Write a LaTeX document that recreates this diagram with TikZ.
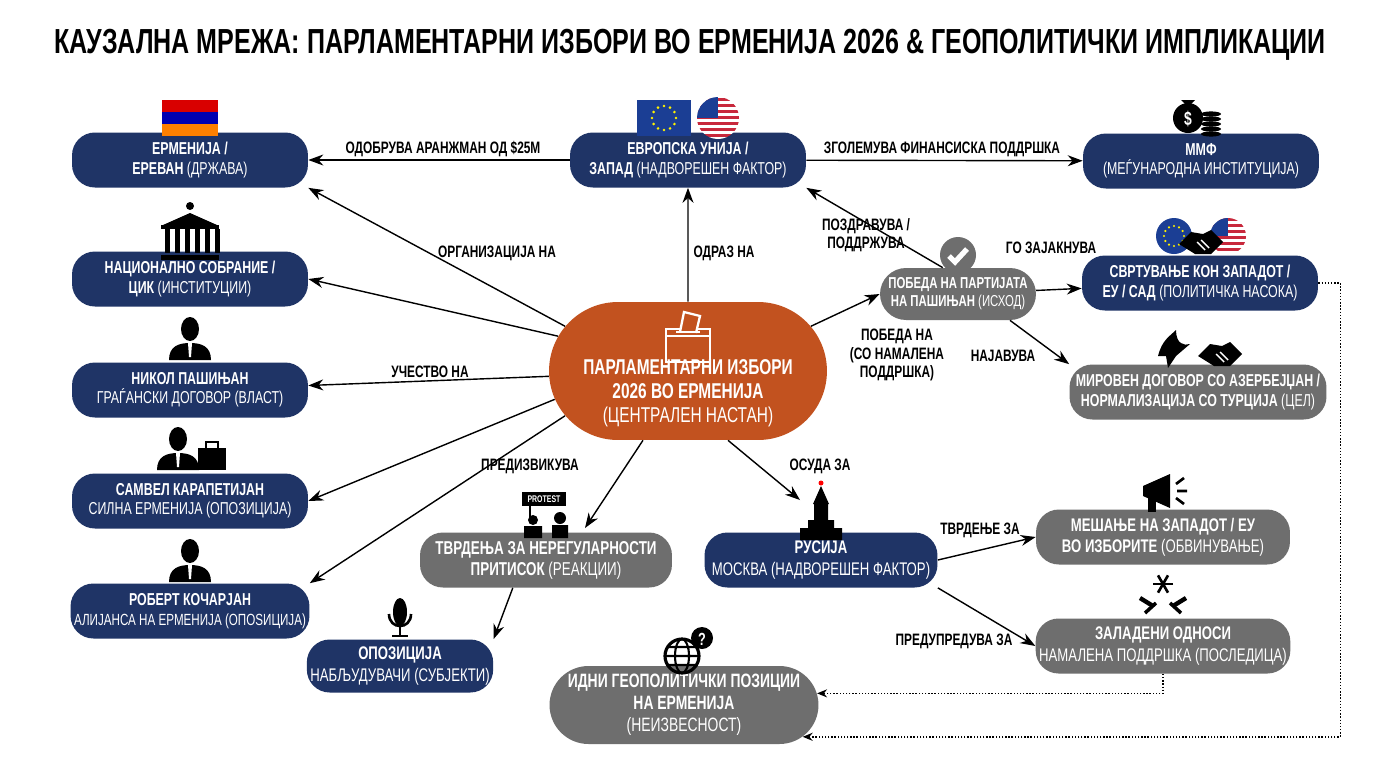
\documentclass[tikz,border=0pt]{standalone}
\usepackage{fontspec}
\setmainfont{Liberation Sans}[FakeStretch=0.72]
\usetikzlibrary{positioning,arrows.meta,shapes.misc,calc}
\definecolor{navy}{HTML}{1F3466}
\definecolor{slate}{HTML}{6E6E6E}
\definecolor{rust}{HTML}{C2521F}
\definecolor{eublue}{HTML}{1B3E94}
\definecolor{usred}{HTML}{C8283C}
\tikzset{
  box/.style={rounded corners=13, minimum width=4.72cm, minimum height=1.1cm, align=center, text=white, inner sep=2pt, font=\fontsize{9.8}{11}\selectfont},
  navybox/.style={box, fill=navy},
  graybox/.style={box, fill=slate},
  pill/.style={rounded rectangle, align=center, text=white, inner sep=2pt, font=\fontsize{9.8}{11}\selectfont},
  lbl/.style={font=\bfseries\fontsize{9.4}{10.6}\selectfont, align=center},
  link/.style={-{Stealth[length=3mm,width=2.2mm]}, line width=0.8pt},
  dots/.style={-{Stealth[length=2mm,width=1.6mm]}, densely dotted, line width=0.8pt},
  person/.pic={
    \fill (0,-15) ellipse (9 and 12);
    \fill (-21,16) .. controls (-21,2) and (-11,-1) .. (0,-1) .. controls (11,-1) and (21,2) .. (21,16) -- cycle;
    \fill[white] (-2,-1) -- (2,-1) -- (1,13) -- (-1,13) -- cycle;
  },
  shake/.pic={
    \fill (-22,4) -- (-10,-8) -- (2,-6) -- (10,-10) -- (22,2) -- (10,14) -- (-6,14) -- cycle;
    \draw[white, line width=0.8pt] (-4,2) -- (4,10) (0,0) -- (8,8);
  }
}
\begin{document}
\begin{tikzpicture}[x=0.02cm, y=-0.02cm]
  \useasboundingbox (0,0) rectangle (1376,768);
  \fill[white] (0,0) rectangle (1376,768);

  \node[font=\bfseries\fontsize{19.8}{22}\selectfont] (title) at (690,45) {КАУЗАЛНА МРЕЖА: ПАРЛАМЕНТАРНИ ИЗБОРИ ВО ЕРМЕНИЈА 2026 \& ГЕОПОЛИТИЧКИ ИМПЛИКАЦИИ};

  % nodes
  \node[pill, fill=rust, minimum width=5.7cm, minimum height=2.76cm, font=\fontsize{12.2}{13.6}\selectfont] (izbori) at (688,371)
    {\\[20pt]\textbf{ПАРЛАМЕНТАРНИ ИЗБОРИ}\\\textbf{2026 ВО ЕРМЕНИЈА}\\(ЦЕНТРАЛЕН НАСТАН)};
  \node[navybox] (armenija) at (190,160) {\textbf{ЕРМЕНИЈА /}\\\textbf{ЕРЕВАН} (ДРЖАВА)};
  \node[navybox] (sobranie) at (190,279) {\textbf{НАЦИОНАЛНО СОБРАНИЕ /}\\\textbf{ЦИК} (ИНСТИТУЦИИ)};
  \node[navybox] (nikol) at (190,390) {\textbf{НИКОЛ ПАШИЊАН}\\ГРАЃАНСКИ ДОГОВОР (ВЛАСТ)};
  \node[navybox] (samvel) at (190,501) {\textbf{САМВЕЛ КАРАПЕТИЈАН}\\СИЛНА ЕРМЕНИЈА (ОПОЗИЦИЈА)};
  \node[navybox] (robert) at (190,611) {\textbf{РОБЕРТ КОЧАРЈАН}\\{\fontsize{9.2}{11}\selectfont АЛИЈАНСА НА ЕРМЕНИЈА (ОПОЅИЦИЈА)}};
  \node[navybox] (eu) at (688,160) {\textbf{ЕВРОПСКА УНИЈА /}\\\textbf{ЗАПАД} (НАДВОРЕШЕН ФАКТОР)};
  \node[navybox] (mmf) at (1201,161) {\textbf{ММФ}\\(МЕЃУНАРОДНА ИНСТИТУЦИЈА)};
  \node[pill, fill=slate, minimum width=3.26cm, minimum height=1.04cm, font=\fontsize{9}{10.2}\selectfont] (pobeda) at (958,294) {\textbf{ПОБЕДА НА ПАРТИЈАТА}\\\textbf{НА ПАШИЊАН} (ИСХОД)};
  \node[navybox] (zapad) at (1200,283) {\textbf{СВРТУВАЊЕ КОН ЗАПАДОТ /}\\\textbf{ЕУ / САД} (ПОЛИТИЧКА НАСОКА)};
  \node[graybox, minimum width=5.14cm] (mir) at (1198,392) {\textbf{МИРОВЕН ДОГОВОР СО АЗЕРБЕЈЏАН /}\\\textbf{НОРМАЛИЗАЦИЈА СО ТУРЦИЈА} (ЦЕЛ)};
  \node[graybox, minimum width=5.04cm, font=\fontsize{10.6}{12}\selectfont] (tvrdenja) at (546,560) {\textbf{ТВРДЕЊА ЗА НЕРЕГУЛАРНОСТИ}\\\textbf{ПРИТИСОК} (РЕАКЦИИ)};
  \node[navybox, minimum width=4.66cm, font=\fontsize{10.4}{12}\selectfont] (rusija) at (821,560) {\textbf{РУСИЈА}\\МОСКВА (НАДВОРЕШЕН ФАКТОР)};
  \node[graybox, minimum width=5.08cm, font=\fontsize{10.4}{12}\selectfont] (mesanje) at (1163,537) {\textbf{МЕШАЊЕ НА ЗАПАДОТ / ЕУ}\\\textbf{ВО ИЗБОРИТЕ} (ОБВИНУВАЊЕ)};
  \node[graybox, minimum width=5.08cm, font=\fontsize{10.4}{12}\selectfont] (odnosi) at (1163,646) {\textbf{ЗАЛАДЕНИ ОДНОСИ}\\НАМАЛЕНА ПОДДРШКА (ПОСЛЕДИЦА)};
  \node[navybox, minimum width=3.72cm, minimum height=1.06cm, font=\fontsize{10.4}{12}\selectfont] (opozicija) at (400,666) {\textbf{ОПОЗИЦИЈА}\\НАБЉУДУВАЧИ (СУБЈЕКТИ)};
  \node[pill, fill=slate, minimum width=5.02cm, minimum height=1.56cm, font=\fontsize{11}{12.4}\selectfont] (idni) at (684,705) {\textbf{ИДНИ ГЕОПОЛИТИЧКИ ПОЗИЦИИ}\\\textbf{НА ЕРМЕНИЈА}\\(НЕИЗВЕСНОСТ)};
  \coordinate (rustop) at (800,500);
  \coordinate (tvrtop) at (585,528);

  % connectors
  \draw[link] (eu) -- (armenija);
  \draw[link] (eu) -- (mmf);
  \draw[link] (izbori) -- (eu);
  \draw[link] (izbori.160) -- (armenija.south east);
  \draw[link] (izbori.165) -- (sobranie.east);
  \draw[link] (izbori) -- (nikol);
  \draw[link] (izbori.192) -- (samvel.east);
  \draw[link] (izbori.200) -- (robert.north east);
  \draw[link] (izbori.237) -- (tvrtop);
  \draw[link] (izbori.300) -- (rustop);
  \draw[link] (izbori.20) -- (pobeda.west);
  \draw[link] (pobeda.120) -- (eu.south east);
  \draw[link] (pobeda) -- (zapad);
  \draw[link] (pobeda.south east) -- (mir.north west);
  \draw[link] (tvrdenja.220) -- (opozicija.north east);
  \draw[link] (rusija.east) -- (mesanje.west);
  \draw[link] (rusija.south east) -- (odnosi.west);
  \draw[dots] (odnosi.south) |- (idni.5);
  \draw[dots] (zapad.east) -- ++(22,0) |- (idni.-15);

  % labels
  \node[lbl] (l1) at (443,149) {ОДОБРУВА АРАНЖМАН ОД \$25M};
  \node[lbl] (l2) at (942,149) {ЗГОЛЕМУВА ФИНАНСИСКА ПОДДРШКА};
  \node[lbl] (l3) at (724,253) {ОДРАЗ НА};
  \node[lbl] (l4) at (497,253) {ОРГАНИЗАЦИЈА НА};
  \node[lbl] (l5) at (430,372) {УЧЕСТВО НА};
  \node[lbl] (l6) at (530,466) {ПРЕДИЗВИКУВА};
  \node[lbl] (l7) at (820,466) {ОСУДА ЗА};
  \node[lbl] (l8) at (866,235) {ПОЗДРАВУВА /\\ПОДДРЖУВА};
  \node[lbl] (l9) at (1051,248) {ГО ЗАЈАКНУВА};
  \node[lbl] (l10) at (1003,356) {НАЈАВУВА};
  \node[lbl] (l11) at (897,355) {ПОБЕДА НА\\(СО НАМАЛЕНА\\ПОДДРШКА)};
  \node[lbl] (l12) at (980,530) {ТВРДЕЊЕ ЗА};
  \node[lbl] (l13) at (954,641) {ПРЕДУПРЕДУВА ЗА};

  % icons
  \fill[red!85!black] (162,100) rectangle (218,112);
  \fill[blue!70!black] (162,112) rectangle (218,124);
  \fill[orange] (162,124) rectangle (218,136);
  \fill[eublue] (637,100) rectangle (691,136);
  \foreach \a in {0,30,...,330} \fill[yellow] ($(664,118)+(\a:12)$) circle (1.4);
  \begin{scope}
    \clip (718,118) circle (21);
    \foreach \k in {0,...,6} {\fill[usred] (696,98+6*\k) rectangle (740,101+6*\k); \fill[white] (696,101+6*\k) rectangle (740,104+6*\k);}
    \fill[eublue] (696,96) rectangle (718,118);
  \end{scope}
  % money bag
  \fill (1188,118) circle (15);
  \fill (1181,100) -- (1195,100) -- (1191,104) -- (1185,104) -- cycle;
  \node[white, font=\bfseries\fontsize{11}{11}\selectfont] at (1188,119) {\$};
  \foreach \k in {0,...,4} \fill (1211,134-5*\k) ellipse (10 and 2.6);
  % building
  \fill (161,255) rectangle (219,260);
  \foreach \k in {0,...,5} \fill (165+10*\k,229) rectangle (170+10*\k,253);
  \fill (161,225) rectangle (219,229);
  \fill (163,225) -- (190,213) -- (217,225) -- cycle;
  \fill (190,206) circle (4);
  % persons
  \pic at (190,344) {person};
  \pic at (178,454) {person};
  \fill (198,448) rectangle (226,470);
  \draw[line width=1.5pt] (206,448) -- (206,442) -- (218,442) -- (218,448);
  \pic at (190,566) {person};
  % ballot box
  \draw[white, line width=1.3pt] (666,336) rectangle (710,362);
  \draw[white, line width=1.3pt] (666,336) -- (666,329) -- (710,329) -- (710,336);
  \draw[white, line width=1.3pt, fill=rust] (680,332) -- (684,312) -- (700,316) -- (696,333);
  \draw[white, line width=1.3pt] (676,332) -- (700,332);
  % check
  \fill[slate] (958,255) circle (18);
  \draw[white, line width=3pt] (949,256) -- (955,262) -- (967,249);
  % eu / us circles + handshake
  \fill[eublue] (1174,236) circle (18);
  \foreach \a in {0,30,...,330} \fill[yellow] ($(1174,236)+(\a:10)$) circle (1.2);
  \begin{scope}
    \clip (1228,236) circle (18);
    \foreach \k in {0,...,6} {\fill[usred] (1208,218+6*\k) rectangle (1248,221+6*\k); \fill[white] (1208,221+6*\k) rectangle (1248,224+6*\k);}
    \fill[eublue] (1208,216) rectangle (1228,236);
  \end{scope}
  \pic at (1201,240) {shake};
  % dove + handshake
  \fill (1158,356) .. controls (1162,340) and (1170,336) .. (1176,330) .. controls (1176,344) and (1184,346) .. (1190,344) -- (1176,356) -- (1168,368) -- (1166,356) -- cycle;
  \pic at (1220,352) {shake};
  % protest
  \fill (522,492) rectangle (566,506);
  \node[white, font=\bfseries\fontsize{5.5}{6}\selectfont] at (544,499) {PROTEST};
  \draw[line width=1pt] (530,506) -- (530,522);
  \fill (533,520) circle (5) (560,518) circle (6);
  \fill (524,538) rectangle (542,526) (552,538) rectangle (568,525);
  % kremlin
  \fill (808,520) rectangle (834,540) (814,504) rectangle (828,520) (800,528) rectangle (842,540);
  \fill (813,504) -- (821,486) -- (829,504) -- cycle;
  \fill[red] (821,483) circle (2.5);
  % megaphone
  \fill (1143,486) -- (1170,474) -- (1170,508) -- (1143,496) -- cycle;
  \fill (1148,496) rectangle (1156,512);
  \draw[line width=1.5pt] (1176,484) -- (1184,478) (1177,491) -- (1187,491) (1176,498) -- (1184,504);
  % snowflake + chain
  \foreach \a in {0,60,120} \draw[line width=1.5pt] ($(1163,584)+(\a:10)$) -- ($(1163,584)+(\a+180:10)$);
  \draw[line width=2.5pt] (1140,598) -- (1153,606) (1173,606) -- (1186,598);
  \draw[line width=2pt] (1145,613) -- (1156,603) (1170,603) -- (1181,613);
  % microphone
  \fill (400,612) ellipse (7 and 14);
  \draw[line width=1.5pt] (389,614) .. controls (389,630) and (411,630) .. (411,614);
  \draw[line width=1.5pt] (400,626) -- (400,636) (392,636) -- (408,636);
  % globe
  \draw[line width=1.8pt] (682,656) circle (17);
  \draw[line width=1.2pt] (682,656) ellipse (7 and 17) (665,656) -- (699,656) (668,647) -- (696,647) (668,665) -- (696,665);
  \fill (702,638) circle (11);
  \node[white, font=\bfseries\fontsize{10}{10}\selectfont] at (702,639) {?};
\end{tikzpicture}
\end{document}
